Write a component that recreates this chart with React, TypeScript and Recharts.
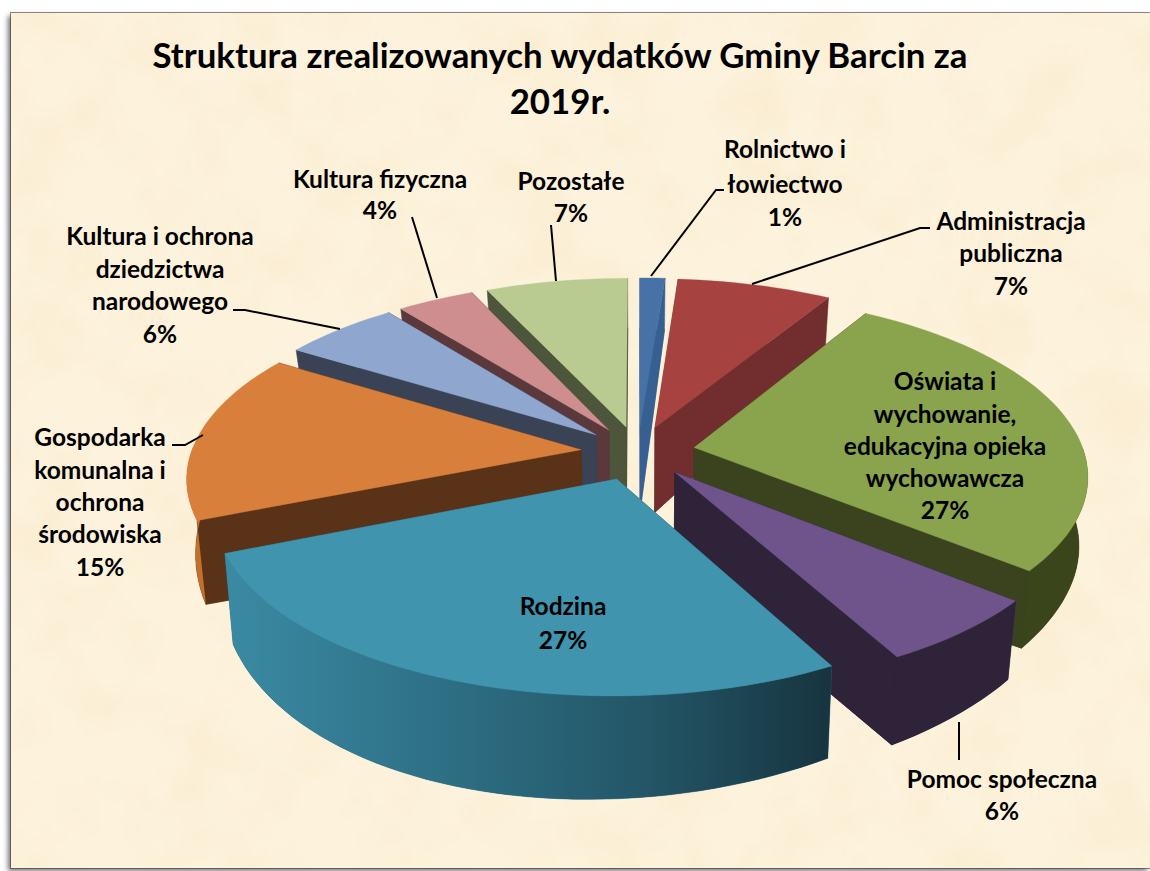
import React from "react";
import { PieChart, Pie } from "recharts";

const CATEGORIES = [
  "Rolnictwo i łowiectwo",
  "Administracja publiczna",
  "Oświata i wychowanie, edukacyjna opieka wychowawcza",
  "Pomoc społeczna",
  "Rodzina",
  "Gospodarka komunalna i ochrona środowiska",
  "Kultura i ochrona dziedzictwa narodowego",
  "Kultura fizyczna",
  "Pozostałe",
];
const VALUES = [1.2, 7.4, 27.4, 6.1, 26.7, 15.1, 5.6, 3.7, 6.8];
const TOP_COLORS = ["#4672a8", "#a64341", "#8aa34d", "#6f548c", "#4094ad", "#d77f3b", "#8fa7cf", "#ce8e8f", "#b9cb91"];
const WALL_COLORS = ["#376092", "#722e2e", "#3a431d", "#2e2339", "#2a6a7e", "#5a3217", "#3a4256", "#5a383b", "#4d553a"];
const RIM_COLORS = ["#376092", "#722e2e", "#3a451c", "#2e2339", "url(#rodzinaRim)", "#c4702c", "#3a4256", "#5a383b", "#4d553a"];

const TITLE_LINES = ["Struktura zrealizowanych wydatków Gminy Barcin za", "2019r."];
const LABEL_LINES = [
  ["Rolnictwo i", "łowiectwo"],
  ["Administracja", "publiczna"],
  ["Oświata i", "wychowanie,", "edukacyjna opieka", "wychowawcza"],
  ["Pomoc społeczna"],
  ["Rodzina"],
  ["Gospodarka", "komunalna i", "ochrona", "środowiska"],
  ["Kultura i ochrona", "dziedzictwa", "narodowego"],
  ["Kultura fizyczna"],
  ["Pozostałe"],
];

// layout only: label centre x, and the y of each line's centre
const LABEL_POS = [
  { x: 785, y: [148, 183, 216] },
  { x: 1011, y: [220, 252, 285] },
  { x: 945, y: [380, 413, 445, 477, 509] },
  { x: 1002, y: [778, 810] },
  { x: 563, y: [605, 639] },
  { x: 100, y: [436, 469, 501, 533, 566] },
  { x: 160, y: [235, 268, 300, 333] },
  { x: 380, y: [178, 209] },
  { x: 571, y: [180, 212] },
];
const LEADERS = [
  "M651,276 L716,190 L724,190",
  "M752,284 L920,228 L930,228",
  "",
  "M959,722 L959,760",
  "",
  "M203,435 L185,445 L172,445",
  "M340,329 L245,310 L233,310",
  "M437,298 L412,217",
  "M556,281 L551,225",
];

// back to front, so nearer slices paint over the walls of farther ones
const DRAW_ORDER = [0, 1, 2, 3, 8, 7, 6, 5, 4];

const WIDTH = 1150;
const HEIGHT = 871;
const CX = 638;
const CY = 452;
const RADIUS = 390;
const EXPLODE = [57, 57, 57, 57, 62, 57, 57, 57, 57];
const TILT = 0.454;
const PERSP = 0.00037;
const FONT = "Lato, sans-serif";

const pieData = CATEGORIES.map((name, i) => ({ name, value: VALUES[i], idx: i }));

function wallHeight(X: number, Y: number) {
  return 88 - 0.058 * Y - 6e-5 * Y * Y - 1e-4 * X * X + 1e-4 * X * Y;
}

function project(X: number, Y: number, bottom: boolean) {
  const s = 1 / (1 + PERSP * Y);
  const k = bottom ? 0.98 : 1;
  return {
    x: CX + X * s * k,
    y: CY - TILT * Y * s + (bottom ? wallHeight(X, Y) : 0),
  };
}

function toPath(pts: { x: number; y: number }[]) {
  return pts.map((p, i) => `${i ? "L" : "M"}${p.x.toFixed(1)},${p.y.toFixed(1)}`).join(" ") + " Z";
}

function SliceShape(props: any, only: number) {
  const idx = props.payload?.idx ?? props.idx;
  if (idx !== only) return <g />;
  const { startAngle, endAngle, outerRadius } = props;
  const rad = Math.PI / 180;
  const mid = ((startAngle + endAngle) / 2) * rad;
  const ex = EXPLODE[idx] * Math.cos(mid);
  const ey = EXPLODE[idx] * Math.sin(mid);

  const angles: number[] = [];
  const steps = Math.max(2, Math.ceil(Math.abs(endAngle - startAngle) / 2));
  for (let i = 0; i <= steps; i++) angles.push((startAngle + ((endAngle - startAngle) * i) / steps) * rad);

  const rimPt = (a: number, bottom: boolean) =>
    project(ex + outerRadius * Math.cos(a), ey + outerRadius * Math.sin(a), bottom);
  const tip = project(ex, ey, false);
  const tipB = project(ex, ey, true);
  const topArc = angles.map((a) => rimPt(a, false));
  const botArc = angles.map((a) => rimPt(a, true));

  const frontAngles = angles.filter((a) => Math.sin(a) < 0.03);
  const wall = WALL_COLORS[idx];
  const rim = RIM_COLORS[idx];
  const top = TOP_COLORS[idx];

  return (
    <g>
      <defs>
        <linearGradient id="rodzinaRim" gradientUnits="userSpaceOnUse" x1="228" y1="0" x2="832" y2="0">
          <stop offset="0" stopColor="#3a8aa3" />
          <stop offset="0.35" stopColor="#2e7085" />
          <stop offset="0.7" stopColor="#235566" />
          <stop offset="1" stopColor="#17343f" />
        </linearGradient>
      </defs>
      <path d={toPath([tipB, ...botArc])} fill={wall} stroke={wall} strokeWidth={0.5} />
      <path d={toPath([tip, topArc[0], botArc[0], tipB])} fill={wall} stroke={wall} strokeWidth={0.5} />
      <path
        d={toPath([tip, topArc[topArc.length - 1], botArc[botArc.length - 1], tipB])}
        fill={wall}
        stroke={wall}
        strokeWidth={0.5}
      />
      {frontAngles.length > 1 && (
        <path
          d={toPath([
            ...frontAngles.map((a) => rimPt(a, false)),
            ...frontAngles.map((a) => rimPt(a, true)).reverse(),
          ])}
          fill={rim}
          stroke="none"
        />
      )}
      <path d={toPath([tip, ...topArc])} fill={top} stroke={top} strokeWidth={0.5} strokeOpacity={0.6} />
    </g>
  );
}

function LabelBlock(props: any) {
  const idx = props.payload?.idx ?? props.idx ?? props.index;
  const pos = LABEL_POS[idx];
  const lines = [...LABEL_LINES[idx], `${Math.round(VALUES[idx])}%`];
  return (
    <g>
      {LEADERS[idx] && <path d={LEADERS[idx]} fill="none" stroke="#000" strokeWidth={2} />}
      {lines.map((line, i) => (
        <text
          key={i}
          x={pos.x}
          y={pos.y[i]}
          textAnchor="middle"
          dominantBaseline="central"
          fontFamily={FONT}
          fontWeight={700}
          fontSize={24.5}
          fill="#000"
        >
          {line}
        </text>
      ))}
    </g>
  );
}

function Parchment() {
  return (
    <svg width={1139} height={855} style={{ position: "absolute", left: 0, top: 0, display: "block" }}>
      <defs>
        <filter id="mottle" x="0" y="0" width="100%" height="100%">
          <feTurbulence type="fractalNoise" baseFrequency="0.014" numOctaves={4} seed={7} />
          <feColorMatrix values="0 0 0 0 0.93  0 0 0 0 0.80  0 0 0 0 0.56  1.0 0 0 0 -0.42" />
        </filter>
      </defs>
      <rect width="100%" height="100%" fill="#fdf2dc" />
      <rect width="100%" height="100%" filter="url(#mottle)" />
    </svg>
  );
}

export default function App() {
  return (
    <div
      style={{
        position: "fixed",
        left: 0,
        top: 0,
        width: WIDTH,
        height: HEIGHT,
        overflow: "hidden",
        background: "#fff",
      }}
    >
      <div
        style={{
          position: "absolute",
          left: 11,
          top: 13,
          width: 1139,
          height: 855,
          boxShadow: "-3px 3px 5px rgba(70,70,70,0.75), 0 0 0 1px #8a8a8a",
        }}
      >
        <Parchment />
      </div>
      <div style={{ position: "absolute", left: 0, top: 0 }}>
        <PieChart width={WIDTH} height={HEIGHT} margin={{ top: 0, right: 0, bottom: 0, left: 0 }}>
          {TITLE_LINES.map((line, i) => (
            <text
              key={line}
              x={560}
              y={54.5 + i * 45.5}
              textAnchor="middle"
              dominantBaseline="central"
              fontFamily={FONT}
              fontWeight={700}
              fontSize={34.8}
              fill="#000"
            >
              {line}
            </text>
          ))}
          {DRAW_ORDER.map((only) => (
            <Pie
              key={only}
              data={pieData}
              dataKey="value"
              nameKey="name"
              cx={CX}
              cy={CY}
              innerRadius={0}
              outerRadius={RADIUS}
              startAngle={90}
              endAngle={-270}
              stroke="none"
              isAnimationActive={false}
              labelLine={false}
              shape={(p: any) => SliceShape(p, only)}
            />
          ))}
          <Pie
            data={pieData}
            dataKey="value"
            nameKey="name"
            cx={CX}
            cy={CY}
            innerRadius={0}
            outerRadius={RADIUS}
            startAngle={90}
            endAngle={-270}
            fill="none"
            stroke="none"
            isAnimationActive={false}
            labelLine={false}
            label={(p: any) => <LabelBlock {...p} />}
            shape={() => <g />}
          />
        </PieChart>
      </div>
    </div>
  );
}
